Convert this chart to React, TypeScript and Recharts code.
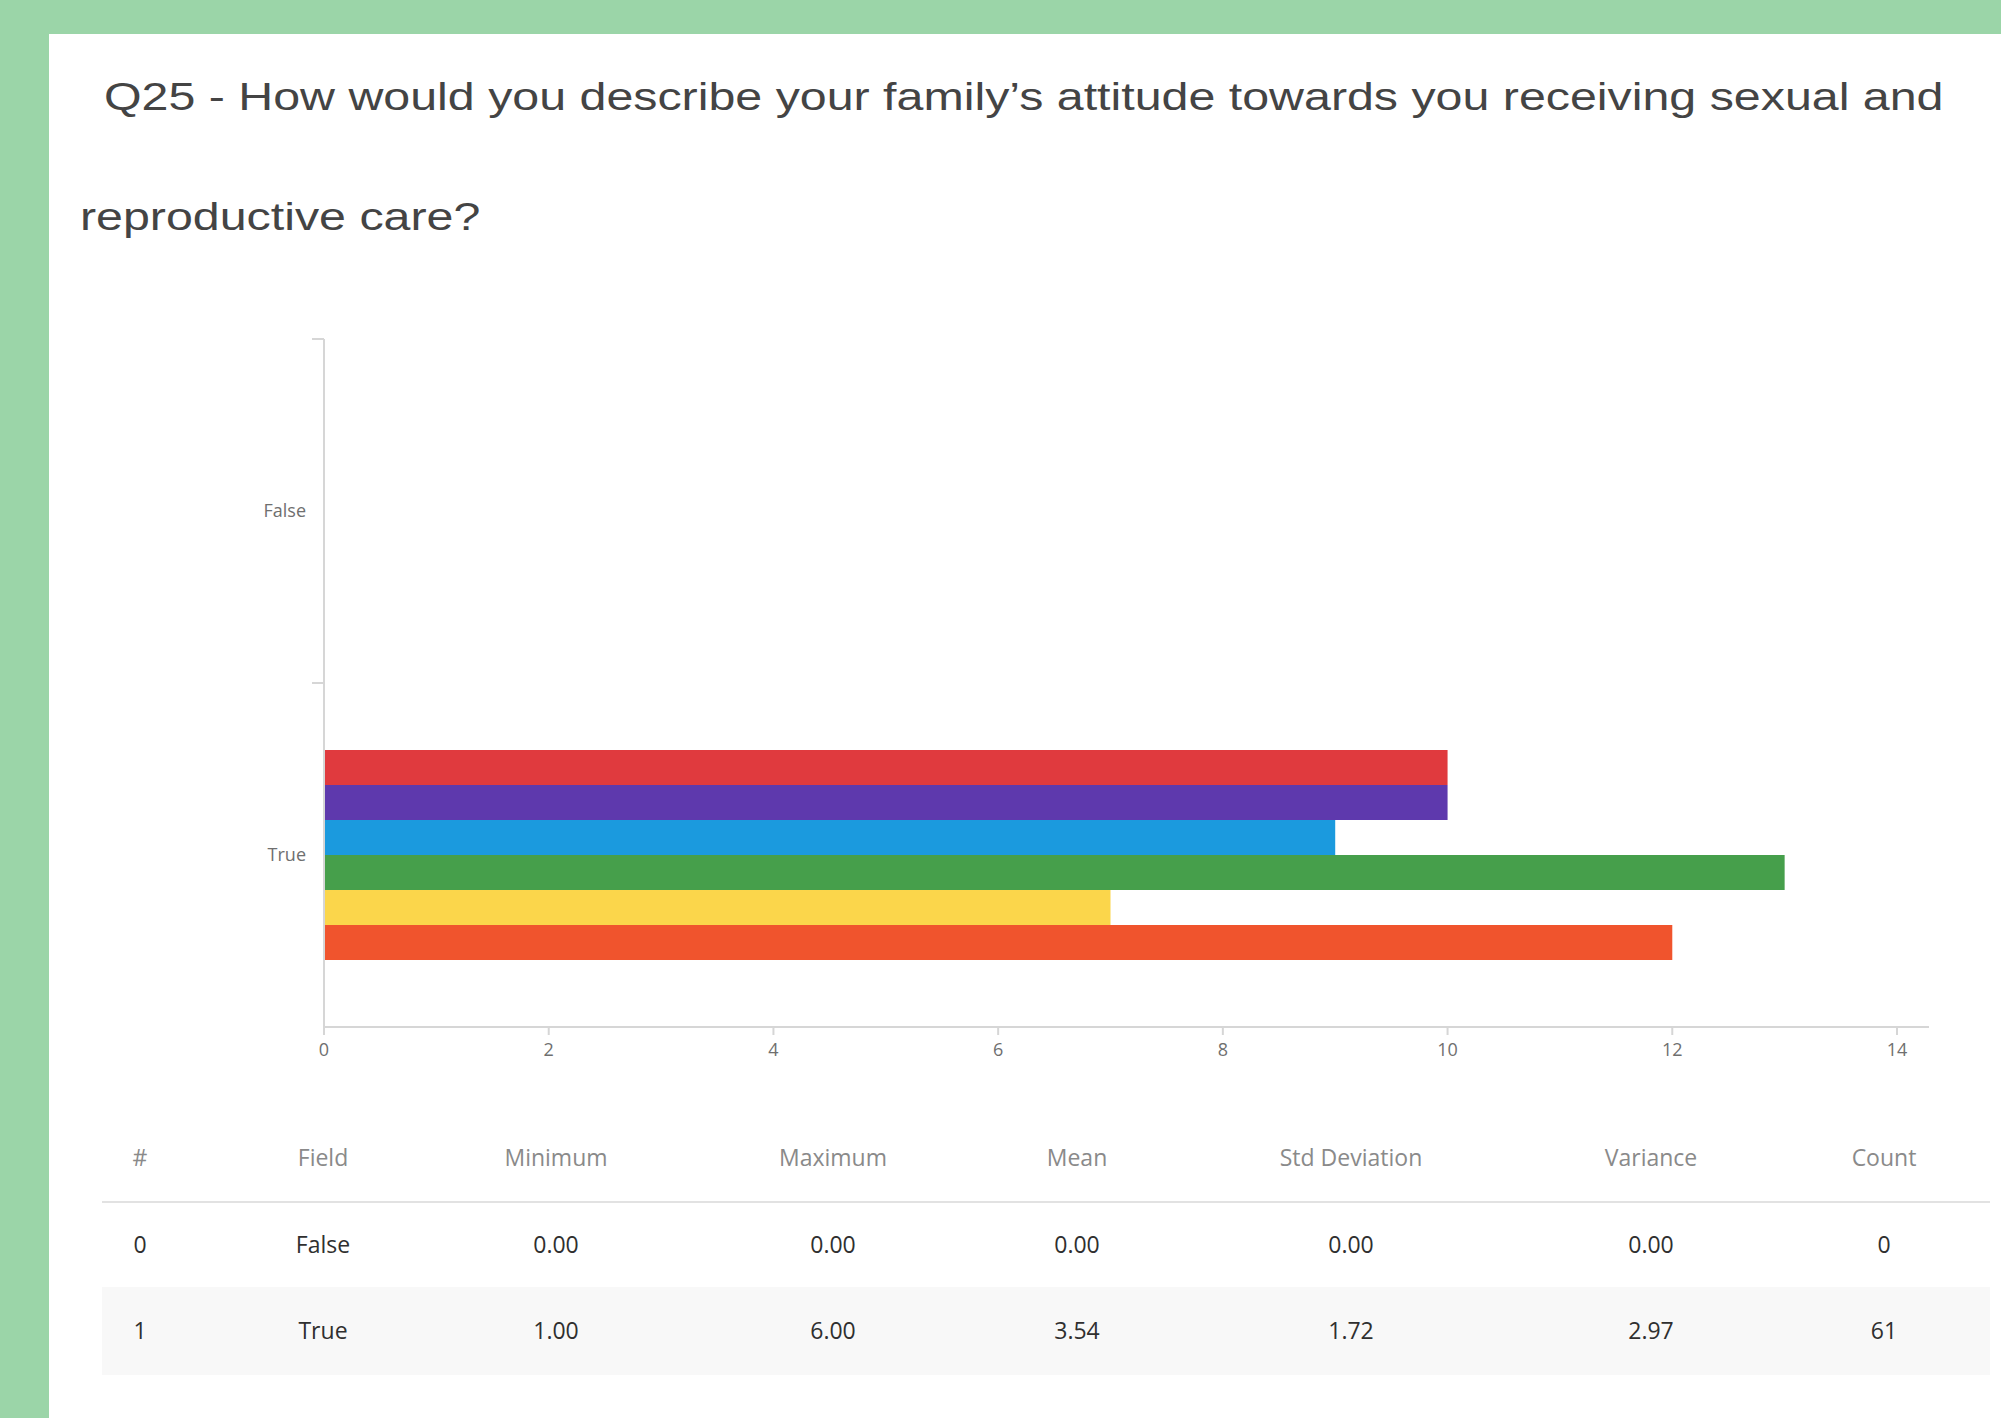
import React from 'react';
import { BarChart, Bar, XAxis, YAxis } from 'recharts';

// Categories on the y axis and the six answer series (counts per choice)
const fields = ['False', 'True'];
const seriesNames = ['Choice 1', 'Choice 2', 'Choice 3', 'Choice 4', 'Choice 5', 'Choice 6'];
const falseCounts = [0, 0, 0, 0, 0, 0];
const trueCounts = [10, 10, 9, 13, 7, 12];
const seriesColors = ['#e03a3e', '#5e39ad', '#1b9ade', '#469f4b', '#fbd64b', '#f0542d'];
const xTicks = [0, 2, 4, 6, 8, 10, 12, 14];

// Summary table
const tableHeaders = ['#', 'Field', 'Minimum', 'Maximum', 'Mean', 'Std Deviation', 'Variance', 'Count'];
const tableRows = [
    ['0', 'False', '0.00', '0.00', '0.00', '0.00', '0.00', '0'],
    ['1', 'True', '1.00', '6.00', '3.54', '1.72', '2.97', '61'],
];
const columnCenters = [140, 323, 556, 833, 1077, 1351, 1651, 1884];

const TITLE_1 = 'Q25 - How would you describe your family\u2019s attitude towards you receiving sexual and';
const TITLE_2 = 'reproductive care?';

const chartData = fields.map((field, i) => {
    const counts = i === 0 ? falseCounts : trueCounts;
    const row: Record<string, string | number> = { field };
    seriesNames.forEach((name, j) => {
        row[name] = counts[j];
    });
    return row;
});

const CHART_W = 2001;
const CHART_H = 1090;
const PLOT_TOP = 339;
const PLOT_BOTTOM = 1027;
const AXIS_X = 324;
const AXIS_COLOR = '#d6d6d6';
const TICK_COLOR = '#6f6f6f';
const FONT = '"Open Sans", "Noto Sans", sans-serif';

const titleStyle: React.CSSProperties = {
    position: 'absolute',
    fontFamily: '"Liberation Sans", Arial, sans-serif',
    fontSize: 38,
    lineHeight: '38px',
    color: '#444444',
    whiteSpace: 'nowrap',
    transform: 'scaleX(1.272)',
    transformOrigin: 'left top',
};

// y tick: label at band centre, small tick mark at the band's top edge
function CategoryTick({ y, payload }: { y?: number; payload?: { value: string } }) {
    const half = (PLOT_BOTTOM - PLOT_TOP) / fields.length / 2;
    const cy = y ?? 0;
    return (
        <g>
            <line x1={AXIS_X - 12} x2={AXIS_X} y1={cy - half} y2={cy - half} stroke={AXIS_COLOR} strokeWidth={2} />
            <text x={AXIS_X - 18} y={cy} dy="0.35em" textAnchor="end" fontSize={18} fill={TICK_COLOR} fontFamily={FONT}>
                {payload?.value}
            </text>
        </g>
    );
}

export default function App() {
    return (
        <div
            style={{
                position: 'absolute',
                left: 0,
                top: 0,
                width: 2001,
                height: 1418,
                background: '#9bd5a8',
                overflow: 'hidden',
            }}
        >
            <div style={{ position: 'absolute', left: 49, top: 34, right: 0, bottom: 0, background: '#ffffff' }} />

            {/* Title, two lines */}
            <div style={{ ...titleStyle, left: 104, top: 78 }}>{TITLE_1}</div>
            <div style={{ ...titleStyle, left: 80, top: 198 }}>{TITLE_2}</div>

            <div style={{ position: 'absolute', left: 0, top: 0 }}>
                <BarChart
                    width={CHART_W}
                    height={CHART_H}
                    data={chartData}
                    layout="vertical"
                    margin={{ top: PLOT_TOP, right: 72, bottom: CHART_H - PLOT_BOTTOM - 40, left: 0 }}
                    barSize={35}
                    barGap={0}
                >
                    <XAxis
                        type="number"
                        domain={[0, 14]}
                        ticks={xTicks}
                        height={40}
                        padding={{ left: 0, right: 32 }}
                        axisLine={{ stroke: AXIS_COLOR, strokeWidth: 2 }}
                        tickLine={{ stroke: AXIS_COLOR, strokeWidth: 2 }}
                        tickSize={8}
                        tickMargin={8}
                        tick={{ fontSize: 18, fill: TICK_COLOR, fontFamily: FONT }}
                    />
                    <YAxis
                        type="category"
                        dataKey="field"
                        width={AXIS_X}
                        axisLine={{ stroke: AXIS_COLOR, strokeWidth: 2 }}
                        tickLine={false}
                        tick={<CategoryTick />}
                    />
                    {seriesNames.map((name, i) => (
                        <Bar key={name} dataKey={name} fill={seriesColors[i]} isAnimationActive={false} />
                    ))}
                </BarChart>
            </div>

            {/* Summary table */}
            <div style={{ position: 'absolute', left: 102, top: 1201, width: 1888, height: 2, background: '#e2e2e2' }} />
            <div style={{ position: 'absolute', left: 102, top: 1287, width: 1888, height: 88, background: '#f8f8f8' }} />
            {tableHeaders.map((h, i) => (
                <div
                    key={h}
                    style={{
                        position: 'absolute',
                        left: columnCenters[i],
                        top: 1157,
                        transform: 'translate(-50%, -50%)',
                        fontFamily: FONT,
                        fontSize: 23,
                        color: '#8a8a8a',
                        whiteSpace: 'nowrap',
                    }}
                >
                    {h}
                </div>
            ))}
            {tableRows.map((row, r) =>
                row.map((cell, i) => (
                    <div
                        key={`${r}-${i}`}
                        style={{
                            position: 'absolute',
                            left: columnCenters[i],
                            top: r === 0 ? 1244 : 1330,
                            transform: 'translate(-50%, -50%)',
                            fontFamily: FONT,
                            fontSize: 23,
                            color: '#2f2f2f',
                            whiteSpace: 'nowrap',
                        }}
                    >
                        {cell}
                    </div>
                ))
            )}
        </div>
    );
}
